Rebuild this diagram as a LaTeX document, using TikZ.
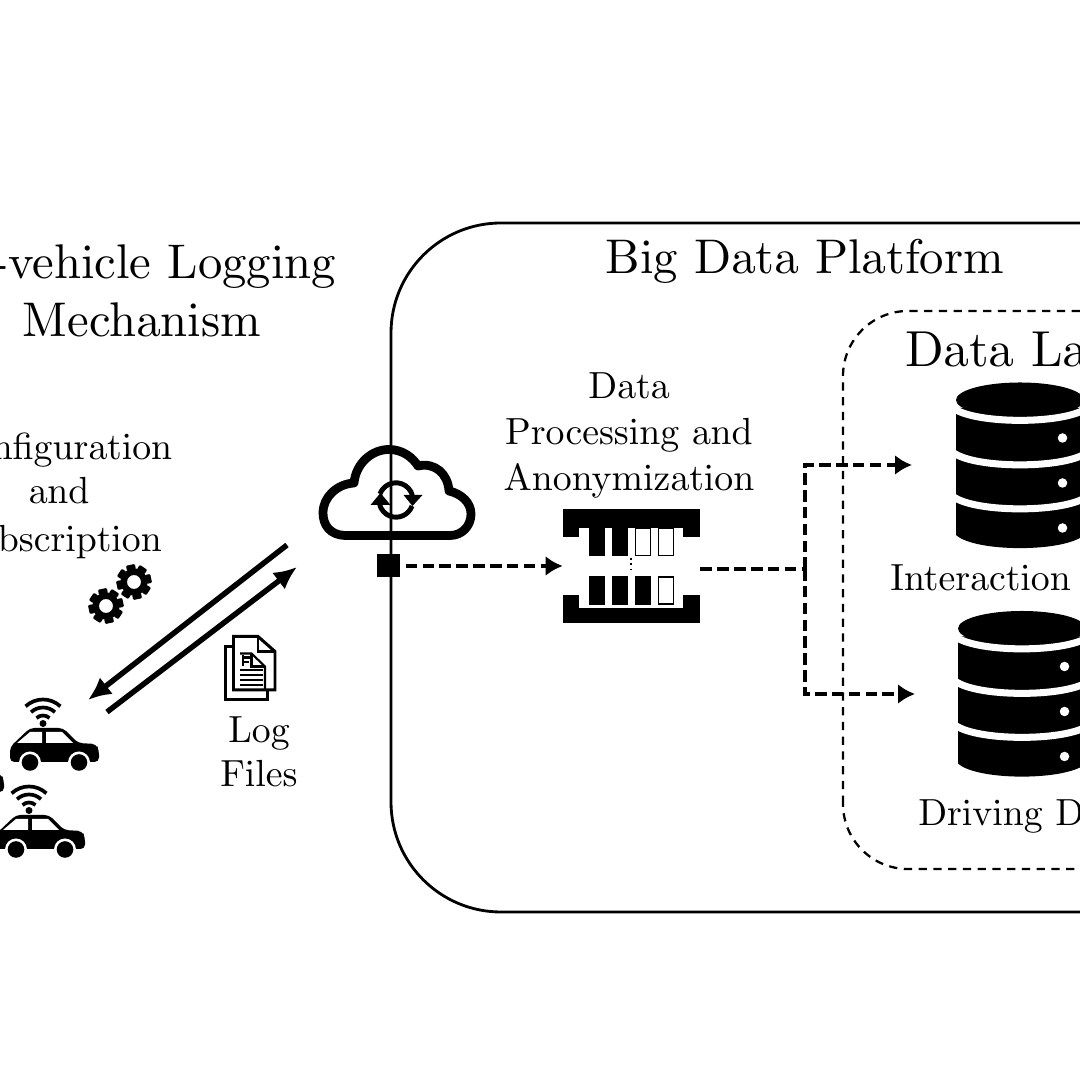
\documentclass[tikz,border=0pt]{standalone}
\usepackage{amsmath}
\usepackage{tikz}
\usetikzlibrary{arrows.meta,positioning}
\font\titlefont=cmr10 at 27.7pt
\font\lakefont=cmr10 at 28.8pt
\font\labfont=cmr10 at 21.5pt

\begin{document}
\begin{tikzpicture}[
  >=Latex,
  big/.style={font=\titlefont,align=center},
  lab/.style={font=\labfont,align=center},
  flow/.style={-{Latex[length=4.6mm,width=4.2mm]},line width=3.1pt},
  dataflow/.style={line width=2.2pt,dash pattern=on 6.6pt off 3pt},
  dataarrow/.style={dataflow,-{Latex[length=3.4mm,width=4mm]}},
  port/.style={fill=black,minimum size=0.46cm,inner sep=0pt},
  cell/.style={draw=black,line width=1pt,minimum width=0.3cm,minimum height=0.54cm,inner sep=0pt},
  full/.style={cell,fill=black},
  gearicon/.pic={
    \fill[even odd rule] (0,0) circle (0.27) (0,0) circle (0.14);
    \foreach \a in {0,45,...,315}
      \fill[rotate=\a+12,rounded corners=0.6pt] (0.24,-0.09) rectangle (0.35,0.09);
  },
  wifiicon/.pic={
    \fill (0,0.03) circle (0.07);
    \foreach \r in {0.19,0.35,0.51}
      \draw[line width=2.1pt] (47:\r) arc (47:133:\r);
  },
  caricon/.pic={
    \fill[rounded corners=2.5pt] (-0.90,-0.24) -- (-0.90,0.06) -- (-0.50,0.44) -- (0.16,0.44)
      -- (0.46,0.14) -- (0.82,0.12) -- (0.88,0.00) -- (0.88,-0.24) -- cycle;
    \fill[white] (-0.76,0.14) -- (-0.50,0.36) -- (-0.26,0.36) -- (-0.26,0.14) -- cycle;
    \fill[white] (-0.18,0.36) -- (0.14,0.36) -- (0.36,0.14) -- (-0.18,0.14) -- cycle;
    \foreach \x in {-0.50,0.48} {
      \fill[white] (\x,-0.25) circle (0.22);
      \fill (\x,-0.25) circle (0.166);
    }
    \pic at (-0.24,0.50) {wifiicon};
  },
  dbicon/.pic={
    \fill (0,0) ellipse (1.28 and 0.35);
    \fill (-1.28,-0.16) -- (-1.28,-2.70) .. controls (-0.9,-3.05) and (0.9,-3.05) .. (1.28,-2.70)
      -- (1.28,-0.16) -- cycle;
    \foreach \y in {-0.16,-1.05,-1.93}
      \draw[white,line width=4pt] (-1.34,\y) .. controls (-0.9,\y-0.33) and (0.9,\y-0.33) .. (1.34,\y);
    \foreach \y in {-0.76,-1.66,-2.56}
      \fill[white] (0.85,\y) circle (0.095);
  }
]
  \useasboundingbox (0,0) rectangle (21.6,21.6);
  \clip (0,0) rectangle (21.6,21.6);

  % boxes
  \draw[line width=1.6pt,rounded corners=2.2cm] (7.82,3.36) rectangle (25,17.14);
  \draw[line width=1.3pt,dash pattern=on 4.7pt off 3.7pt,rounded corners=1.3cm] (16.86,4.22) rectangle (25,15.38);

  % titles
  \node[big] (logtitle) at (2.84,16.28) {In-vehicle Logging};
  \node[big] (mechtitle) at (2.84,15.20) {Mechanism};
  \node[big] (platform) at (16.10,16.38) {Big Data Platform};
  \node[font=\lakefont,anchor=west,inner sep=0pt] (lake) at (18.10,14.62) {Data Lake};
  \node[lab] (cfgone) at (1.18,12.60) {Configuration};
  \node[lab] (cfgtwo) at (1.18,11.80) {and};
  \node[lab] (cfgthree) at (1.18,10.76) {Subscription};
  \node[lab] (logone) at (5.18,6.94) {Log};
  \node[lab] (logtwo) at (5.18,6.14) {Files};
  \node[lab] (anonone) at (12.58,13.88) {Data};
  \node[lab] (anontwo) at (12.58,12.90) {Processing and};
  \node[lab] (anonthree) at (12.58,11.98) {Anonymization};
  \node[lab,anchor=west,inner sep=0pt] (interaction) at (17.80,10.04) {Interaction Data};
  \node[lab,anchor=west,inner sep=0pt] (driving) at (18.36,5.28) {Driving Data};

  % cloud
  \draw[line width=5pt,line join=round] (6.90,10.89)
    .. controls (6.60,10.90) and (6.46,11.10) .. (6.46,11.34)
    .. controls (6.46,11.66) and (6.74,11.92) .. (7.08,11.94)
    .. controls (7.12,12.34) and (7.44,12.61) .. (7.78,12.61)
    .. controls (8.06,12.61) and (8.26,12.44) .. (8.36,12.28)
    .. controls (8.70,12.36) and (8.96,12.12) .. (8.98,11.78)
    .. controls (9.24,11.72) and (9.42,11.54) .. (9.42,11.32)
    .. controls (9.42,11.08) and (9.24,10.89) .. (9.00,10.89) -- cycle;
  \draw[line width=2.8pt] (7.60,11.72) arc (160:15:0.34);
  \draw[line width=2.8pt] (8.24,11.48) arc (-20:-165:0.34);
  \fill (8.07,11.70) -- (8.45,11.70) -- (8.25,11.48) -- cycle;
  \fill (7.41,11.50) -- (7.81,11.50) -- (7.61,11.74) -- cycle;

  % anonymization block
  \fill (11.26,11.04) rectangle (14.00,11.42);
  \fill (11.26,10.86) rectangle (11.58,11.42);
  \fill (13.66,10.86) rectangle (14.00,11.42);
  \fill (11.26,9.14) rectangle (14.00,9.44);
  \fill (11.26,9.14) rectangle (11.58,9.70);
  \fill (13.66,9.14) rectangle (14.00,9.70);
  \node[full] (a1) at (11.94,10.76) {};
  \node[full] (a2) at (12.40,10.76) {};
  \node[cell] (a3) at (12.86,10.76) {};
  \node[cell] (a4) at (13.32,10.76) {};
  \node[full] (b1) at (11.94,9.79) {};
  \node[full] (b2) at (12.40,9.79) {};
  \node[full] (b3) at (12.86,9.79) {};
  \node[cell] (b4) at (13.32,9.79) {};
  \draw[line width=1pt,dotted] (12.62,10.44) -- (12.62,10.14);
  \node[minimum width=2.74cm,minimum height=2.28cm,inner sep=0pt] (anon) at (12.63,10.28) {};

  % connectors
  \node[port] (gate) at (7.77,10.28) {};
  \coordinate (split) at (16.10,10.22);
  \coordinate (upper) at (18.24,12.30);
  \coordinate (lower) at (18.30,7.72);
  \draw[dataarrow,shorten <=3pt] (gate.east) -- (anon.west |- gate.east);
  \draw[dataflow] (anon.east |- split) -- (split);
  \draw[dataarrow] (split) |- (upper);
  \draw[dataarrow] (split) |- (lower);

  \coordinate (cloudout) at (5.74,10.70);
  \coordinate (carin) at (1.76,7.60);
  \coordinate (carout) at (2.14,7.36);
  \coordinate (cloudin) at (5.94,10.26);
  \draw[flow] (cloudout) -- (carin);
  \draw[flow] (carout) -- (cloudin);

  % icons
  \pic at (2.12,9.48) {gearicon};
  \pic at (2.68,9.96) {gearicon};
  \pic at (1.10,6.60) {caricon};
  \pic at (0.82,4.86) {caricon};
  \pic at (-0.80,6.00) {caricon};
  \pic at (20.40,13.60) {dbicon};
  \pic at (20.44,9.03) {dbicon};

  % log file
  \draw[line width=1.7pt,line join=miter] (4.67,8.87) -- (5.16,8.87) -- (5.50,8.57)
    -- (5.50,7.80) -- (4.67,7.80) -- cycle;
  \draw[line width=1.7pt] (5.16,8.87) -- (5.16,8.57) -- (5.50,8.57);
  \draw[line width=1.7pt] (4.67,8.67) -- (4.51,8.67) -- (4.51,7.60) -- (5.35,7.60) -- (5.35,7.80);
  \draw[line width=1.2pt] (4.80,8.53) -- (5.03,8.53) -- (5.30,8.27) -- (5.30,7.80);
  \draw[line width=1.2pt] (5.03,8.53) -- (5.03,8.27) -- (5.30,8.27);
  \draw[line width=1.2pt] (4.86,8.50) -- (4.86,8.28) (4.86,8.45) -- (5.00,8.45) (4.86,8.36) -- (4.98,8.36);
  \foreach \y in {8.20,8.10,8.00,7.90}
    \draw[line width=1.2pt] (4.80,\y) -- (5.26,\y);
\end{tikzpicture}
\end{document}
